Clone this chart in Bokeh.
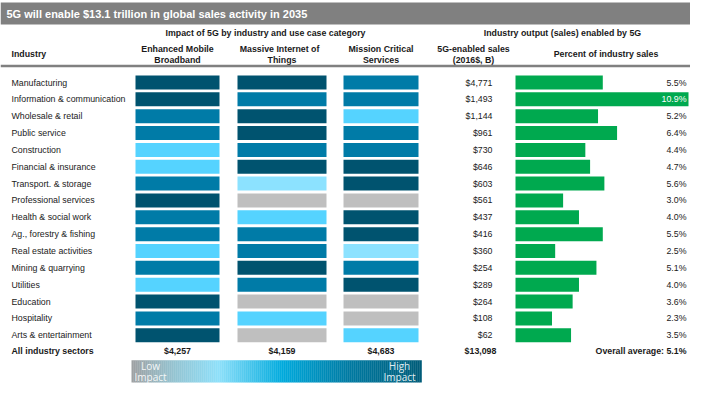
from bokeh.plotting import figure
from bokeh.models import Range1d, ColumnDataSource
from bokeh.embed import file_html
from bokeh.resources import INLINE
from bokeh.core.properties import value

# ---------------- data ----------------
title = "5G will enable $13.1 trillion in global sales activity in 2035"
industries = ["Manufacturing", "Information & communication", "Wholesale & retail",
              "Public service", "Construction", "Financial & insurance",
              "Transport. & storage", "Professional services", "Health & social work",
              "Ag., forestry & fishing", "Real estate activities", "Mining & quarrying",
              "Utilities", "Education", "Hospitality", "Arts & entertainment"]
# impact level: 0 = n/a (gray), 1 = lowest ... 4 = highest
embb = [4, 4, 3, 3, 2, 2, 3, 4, 3, 3, 2, 3, 2, 4, 3, 4]
miot = [4, 3, 4, 4, 3, 4, 1, 0, 2, 3, 3, 4, 3, 0, 2, 0]
mcs = [3, 3, 2, 3, 3, 4, 4, 0, 4, 4, 1, 3, 4, 0, 0, 2]
sales = [4771, 1493, 1144, 961, 730, 646, 603, 561, 437, 416, 360, 254, 289, 264, 108, 62]
pct = [5.5, 10.9, 5.2, 6.4, 4.4, 4.7, 5.6, 3.0, 4.0, 5.5, 2.5, 5.1, 4.0, 3.6, 2.3, 3.5]
use_case_names = [["Enhanced Mobile", "Broadband"], ["Massive Internet   of", "Things"],
                  ["Mission Critical", "Services"]]
use_case_totals = [4257, 4159, 4683]
total_sales = 13098
overall_avg = 5.1

# ---------------- styling ----------------
W, H = 690, 383
FONT = "Liberation Sans"
level_colors = {0: "#BFBFBF", 1: "#8CE2FF", 2: "#55D3FF", 3: "#007BA7", 4: "#00536F"}
GREEN = "#00A94F"
TXT = "#1A1A1A"
FS = value("8.8px")

p = figure(width=W, height=H, x_range=Range1d(0, W), y_range=Range1d(H, 0),
           output_backend="svg", toolbar_location=None, min_border=0,
           x_axis_location=None, y_axis_location=None)
p.grid.visible = False
p.outline_line_color = None
p.background_fill_color = "white"
p.border_fill_color = "white"

RIGHT = 690

# title bar
p.quad(left=[0], right=[RIGHT], top=[2], bottom=[24], fill_color="#808080", line_color=None)
p.text(x=[6], y=[13.5], text=[title], text_font=value(FONT), text_font_size=value("11px"),
       text_font_style="bold", text_color="white", text_baseline="middle")

# layout of columns
col_x = [(135, 219), (237, 326), (343, 418)]
col_c = [(a + b) / 2 for a, b in col_x]
SALES_R = 492
BX0 = 515
LBL_R = 686
PX_PER_PCT = (RIGHT - 2 - BX0) / max(pct)

# headers
p.text(x=[265, 562], y=[32, 32],
       text=["Impact of 5G by industry and use case category", "Industry output (sales) enabled by 5G"],
       text_font=value(FONT), text_font_size=FS, text_font_style="bold", text_color=TXT,
       text_align="center", text_baseline="middle")
line1 = [n[0] for n in use_case_names] + ["5G-enabled sales"]
line2 = [n[1] for n in use_case_names] + ["(2016$, B)"]
cx = col_c + [473]
p.text(x=cx, y=[48] * 4, text=line1, text_font=value(FONT), text_font_size=FS,
       text_font_style="bold", text_color=TXT, text_align="center", text_baseline="middle")
p.text(x=cx, y=[59.5] * 4, text=line2, text_font=value(FONT), text_font_size=FS,
       text_font_style="bold", text_color=TXT, text_align="center", text_baseline="middle")
p.text(x=[11], y=[53.5], text=["Industry"], text_font=value(FONT), text_font_size=FS,
       text_font_style="bold", text_color=TXT, text_align="left", text_baseline="middle")
p.text(x=[(BX0 + RIGHT) / 2 + 3], y=[53.5], text=["Percent of industry sales"],
       text_font=value(FONT), text_font_size=FS, text_font_style="bold", text_color=TXT,
       text_align="center", text_baseline="middle")
p.segment(x0=[0], x1=[RIGHT], y0=[65.5], y1=[65.5], line_color="#808080", line_width=2.5)

# rows
n = len(industries)
PITCH = 16.85
ys = [82 + PITCH * i for i in range(n)]
CH = 14
p.text(x=[11] * n, y=ys, text=industries, text_font=value(FONT), text_font_size=FS,
       text_color=TXT, text_baseline="middle")

for (x0, x1), levels in zip(col_x, [embb, miot, mcs]):
    src = ColumnDataSource(dict(l=[x0] * n, r=[x1] * n, t=[y - CH / 2 for y in ys],
                                b=[y + CH / 2 for y in ys],
                                c=[level_colors[v] for v in levels]))
    p.quad(left="l", right="r", top="t", bottom="b", fill_color="c", line_color=None, source=src)

p.text(x=[SALES_R] * n, y=ys, text=[f"${v:,}" for v in sales], text_font=value(FONT),
       text_font_size=FS, text_color=TXT, text_align="right", text_baseline="middle")

p.quad(left=[BX0] * n, right=[BX0 + v * PX_PER_PCT for v in pct],
       top=[y - CH / 2 for y in ys], bottom=[y + CH / 2 for y in ys],
       fill_color=GREEN, line_color=None)
mx = max(pct)
p.text(x=[LBL_R] * n, y=ys, text=[f"{v:.1f}%" for v in pct], text_font=value(FONT),
       text_font_size=FS, text_color=["white" if v == mx else TXT for v in pct],
       text_align="right", text_baseline="middle")

# totals row
TY = ys[-1] + 16
p.text(x=[11], y=[TY], text=["All industry sectors"], text_font=value(FONT),
       text_font_size=FS, text_font_style="bold", text_color=TXT, text_baseline="middle")
p.text(x=col_c + [480], y=[TY] * 4,
       text=[f"${v:,}" for v in use_case_totals] + [f"${total_sales:,}"],
       text_font=value(FONT), text_font_size=FS, text_font_style="bold",
       text_color=TXT, text_align="center", text_baseline="middle")
p.text(x=[LBL_R], y=[TY], text=[f"Overall average: {overall_avg:.1f}%"], text_font=value(FONT),
       text_font_size=FS, text_font_style="bold", text_color=TXT,
       text_align="right", text_baseline="middle")

# impact gradient legend
stops = [(0.0, (158, 160, 162)), (0.15, (148, 196, 210)), (0.3, (142, 224, 250)),
         (0.52, (0, 170, 221)), (0.75, (0, 122, 162)), (1.0, (0, 92, 120))]


def interp(t):
    for (t0, c0), (t1, c1) in zip(stops[:-1], stops[1:]):
        if t0 <= t <= t1:
            f = (t - t0) / (t1 - t0)
            return "#%02x%02x%02x" % tuple(int(round(a + (b - a) * f)) for a, b in zip(c0, c1))
    return "#%02x%02x%02x" % stops[-1][1]


GX0, GX1 = 131, 421
GY0, GY1 = TY + 9, H - 1
NS = 145
step = (GX1 - GX0) / NS
p.quad(left=[GX0 + i * step for i in range(NS)], right=[GX0 + (i + 1) * step + 0.3 for i in range(NS)],
       top=[GY0] * NS, bottom=[GY1] * NS,
       fill_color=[interp((i + 0.5) / NS) for i in range(NS)], line_color=None)
gm = (GY0 + GY1) / 2
p.text(x=[150, 150, 399, 399], y=[gm - 5.5, gm + 5.5, gm - 5.5, gm + 5.5],
       text=["Low", "Impact", "High", "Impact"],
       text_font=value("Open Sans"), text_font_size=value("10px"), text_color="white", text_alpha=0.9,
       text_align="center", text_baseline="middle")

open("out.html", "w").write(file_html(p, INLINE))
